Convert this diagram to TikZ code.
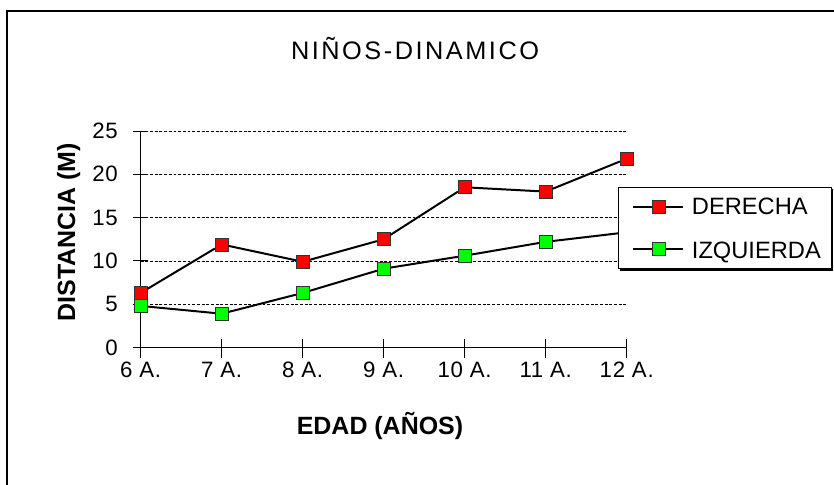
\documentclass[tikz,border=0pt]{standalone}
\usepackage{fontspec}
\setmainfont{Liberation Sans}
\newfontfamily\titlefont[LetterSpace=10]{Liberation Sans}
\newfontfamily\tickfont[LetterSpace=3]{Liberation Sans}
\usepackage{tikz}
\usetikzlibrary{positioning}

\begin{document}
\begin{tikzpicture}[x=0.03cm, y=0.03cm,
                    ptder/.style={draw=black!80, fill=red, minimum size=0.39cm, inner sep=0pt, line width=0.6pt},
                    ptizq/.style={draw=black!80, fill=green, minimum size=0.39cm, inner sep=0pt, line width=0.6pt},
                    serie/.style={line width=1.7pt},
                    rejilla/.style={line width=0.6pt, dash pattern=on 2.5pt off 1.5pt},
                    eje/.style={line width=0.8pt},
                    ticklbl/.style={font=\tickfont\fontsize{19}{22}\selectfont, inner sep=0pt},
                    ejelbl/.style={font=\bfseries\fontsize{21.3}{24}\selectfont, inner sep=0pt},
                    legtxt/.style={font=\fontsize{20.2}{23}\selectfont, inner sep=0pt}]
        \useasboundingbox (0,0) rectangle (834,485);
        \draw[line width=1.5pt] (7,0) -- (7,474) -- (834,474);

        \node[font=\titlefont\fontsize{21.6}{24}\selectfont, anchor=base] (titulo) at (415,425) {NIÑOS-DINAMICO};
        \node[ejelbl, anchor=base] (ejex) at (380,50) {EDAD (AÑOS)};
        \node[ejelbl, anchor=base, rotate=90] (ejey) at (75,252.7) {DISTANCIA (M)};

        \begin{scope}[shift={(140.7,137.5)}, x=2.43cm, y=0.2598cm]
                % rejilla y ejes
                \foreach \v in {5,10,...,25}
                        \draw[rejilla] (0,\v) -- (6,\v);
                \draw[eje] (0,0) -- (0,25);
                \draw[eje] (-0.1,0) -- (6,0);
                \foreach \v in {0,5,...,25}{
                        \draw[eje] (-0.095,\v) -- (0.09,\v);
                        \node[ticklbl, anchor=east] (ty\v) at (-0.28,\v) {\v};
                }
                \foreach [count=\i from 0] \e in {6,...,12}{
                        \draw[eje] (\i,-1.2) -- (\i,0.98);
                        \node[ticklbl, anchor=base] (tx\i) at (\i,-3.52) {\e\ A.};
                }
                % datos
                \foreach [count=\i from 0] \v in {6.3,11.9,9.9,12.5,18.5,18,21.8}
                        \node[ptder] (d\i) at (\i,\v) {};
                \foreach [count=\i from 0] \v in {4.8,3.9,6.3,9.1,10.6,12.2}
                        \node[ptizq] (z\i) at (\i,\v) {};
                \coordinate (z6) at (6,13.3);
                \draw[serie] (d0) -- (d1) -- (d2) -- (d3) -- (d4) -- (d5) -- (d6);
                \draw[serie] (z0) -- (z1) -- (z2) -- (z3) -- (z4) -- (z5) -- (z6);
        \end{scope}

        % leyenda
        \fill (620,214) rectangle (833,296);
        \draw[fill=white, line width=0.8pt] (618,216.5) rectangle (831,298);
        \coordinate (la1) at (633,277.7);
        \coordinate (lb1) at (683,277.7);
        \coordinate (la2) at (633,235.7);
        \coordinate (lb2) at (683,235.7);
        \draw[serie] (la1) -- (lb1);
        \draw[serie] (la2) -- (lb2);
        \node[ptder] (ld) at (659,277.7) {};
        \node[ptizq] (lz) at (659,235.7) {};
        \node[legtxt, anchor=base west] (tder) at (691.7,270) {DERECHA};
        \node[legtxt, anchor=base west] (tizq) at (691.7,226.7) {IZQUIERDA};
\end{tikzpicture}
\end{document}
